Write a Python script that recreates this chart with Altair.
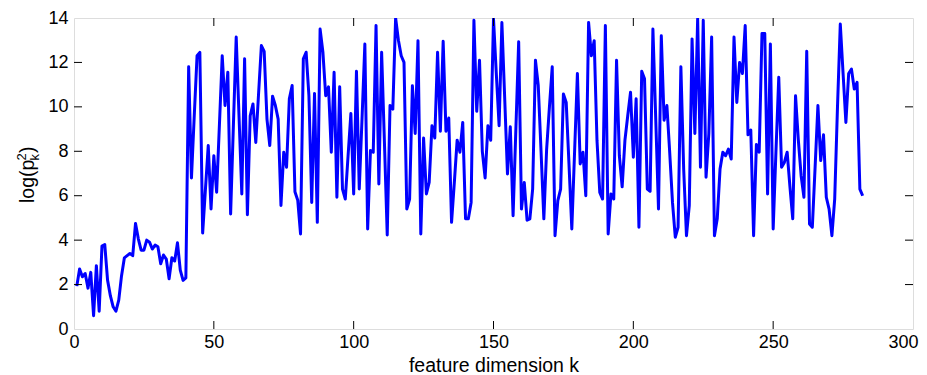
import altair as alt
import pandas as pd

k_vals = list(range(1, 283))
log_p2 = [
    1.93, 2.7, 2.35, 2.5, 1.84, 2.55, 0.6, 2.85, 0.8, 3.73,
    3.8, 2.2, 1.5, 1.0, 0.8, 1.3, 2.4, 3.2, 3.3, 3.4,
    3.3, 4.75, 4.06, 3.55, 3.55, 4.0, 3.91, 3.6, 3.78, 3.7,
    2.94, 3.33, 3.15, 2.26, 3.21, 3.06, 3.88, 2.65, 2.19, 2.3,
    11.8, 6.8, 9.6, 12.3, 12.45, 4.32, 6.3, 8.26, 5.4, 7.8,
    6.16, 9.2, 12.3, 10.06, 11.56, 5.18, 9.2, 13.14, 9.6, 6.08,
    12.16, 5.14, 9.6, 10.13, 8.4, 10.6, 12.76, 12.5, 9.45, 8.26,
    10.48, 10.06, 9.45, 5.56, 7.96, 7.28, 10.36, 10.96, 6.18, 5.8,
    4.28, 12.16, 12.46, 10.5, 5.7, 10.6, 4.8, 13.5, 12.46, 10.5,
    10.9, 7.96, 11.56, 5.93, 10.9, 6.3, 5.85, 7.8, 9.7, 6.08,
    11.6, 6.3, 9.5, 12.83, 4.5, 8.03, 7.96, 13.66, 6.53, 12.46,
    8.4, 4.23, 10.06, 9.9, 14.0, 13.0, 12.3, 12.0, 5.4, 5.85,
    10.95, 8.8, 12.98, 4.28, 8.6, 6.08, 6.6, 9.15, 8.6, 12.46,
    8.9, 12.95, 8.9, 9.5, 4.8, 6.6, 8.5, 7.96, 9.3, 4.96,
    4.96, 5.7, 13.9, 9.8, 12.1, 8.0, 6.8, 9.15, 8.5, 13.96,
    11.5, 9.15, 13.8, 10.4, 6.98, 9.1, 5.1, 9.0, 12.93, 5.4,
    6.6, 4.9, 4.96, 6.3, 12.1, 10.96, 8.0, 4.96, 8.1, 10.0,
    11.8, 4.2, 5.78, 6.3, 10.58, 10.2, 7.4, 4.5, 8.0, 11.5,
    7.43, 7.96, 6.0, 13.8, 12.3, 12.98, 8.5, 6.15, 5.85, 13.66,
    4.28, 6.08, 5.85, 12.1, 7.8, 6.4, 8.5, 9.6, 10.66, 7.73,
    10.36, 4.58, 11.6, 11.26, 6.3, 6.2, 13.5, 9.5, 5.4, 13.2,
    9.4, 10.06, 7.96, 5.7, 4.13, 4.58, 11.8, 7.2, 4.2, 5.55,
    13.06, 8.8, 13.96, 7.28, 13.9, 6.83, 8.8, 13.14, 4.2, 4.96,
    7.2, 7.96, 7.8, 8.1, 7.65, 13.14, 10.2, 12.0, 11.5, 13.66,
    8.74, 8.96, 4.2, 8.3, 7.96, 13.3, 13.3, 6.08, 12.83, 4.5,
    8.0, 11.33, 7.28, 7.5, 7.96, 6.4, 4.96, 10.5, 8.5, 6.9,
    5.93, 12.5, 4.73, 4.58, 7.3, 10.06, 7.58, 8.74, 5.93, 5.4,
    4.2, 5.85, 10.0, 13.73, 11.5, 9.3, 11.5, 11.7, 10.8, 11.1,
    6.3, 6.0,
]
x_ticks = [0, 50, 100, 150, 200, 250, 300]
y_ticks = [0, 2, 4, 6, 8, 10, 12, 14]
x_title = "feature dimension k"
y_title_parts = ["log(p", "2", "k", ")"]

W, H = 839, 311
FONT = "Liberation Sans"
FS = 18
TFS = 19.5
TL = 8

df = pd.DataFrame({"k": k_vals, "v": log_p2})
xt = pd.DataFrame({"t": x_ticks[1:-1]})
yt = pd.DataFrame({"t": y_ticks[1:-1]})

xscale = alt.Scale(domain=[0, 300], nice=False, zero=False)
yscale = alt.Scale(domain=[0, 14], nice=False, zero=False)

line = alt.Chart(df).mark_line(color="#0000ff", strokeWidth=3, clip=True, strokeJoin="round").encode(
    x=alt.X("k:Q", scale=xscale,
            axis=alt.Axis(values=x_ticks, ticks=False, domain=False, grid=False,
                          labelFont=FONT, labelFontSize=FS, labelColor="black",
                          labelFlush=False, labelPadding=4,
                          labelOffset=alt.ExprRef("datum.value == 300 ? -10 : 0"),
                          title=x_title,
                          titleFont=FONT, titleFontSize=TFS, titleFontWeight="normal",
                          titleColor="black", titlePadding=5)),
    y=alt.Y("v:Q", scale=yscale,
            axis=alt.Axis(values=y_ticks, ticks=False, domain=False, grid=False,
                          labelFont=FONT, labelFontSize=FS, labelColor="black",
                          labelFlush=False, labelPadding=6, title=None)),
)

tick_style = dict(color="black", strokeWidth=1)
bottom = alt.Chart(xt).mark_rule(**tick_style).encode(
    x=alt.X("t:Q", scale=xscale), y=alt.value(H), y2=alt.value(H - TL))
top = alt.Chart(xt).mark_rule(**tick_style).encode(
    x=alt.X("t:Q", scale=xscale), y=alt.value(0), y2=alt.value(TL))
left = alt.Chart(yt).mark_rule(**tick_style).encode(
    y=alt.Y("t:Q", scale=yscale), x=alt.value(0), x2=alt.value(TL))
right = alt.Chart(yt).mark_rule(**tick_style).encode(
    y=alt.Y("t:Q", scale=yscale), x=alt.value(W), x2=alt.value(W - TL))


def title_piece(txt, x, y, size):
    return alt.Chart(pd.DataFrame({"s": [txt]})).mark_text(
        angle=270, align="left", baseline="alphabetic", font=FONT,
        fontSize=size, color="black").encode(
        text="s:N", x=alt.value(x), y=alt.value(y))


ytitle = [
    title_piece(y_title_parts[0], -40, 185, TFS),
    title_piece(y_title_parts[1], -48, 142.5, 13),
    title_piece(y_title_parts[2], -35, 142.5, 13),
    title_piece(y_title_parts[3], -40, 135, TFS),
]

chart = alt.layer(line, bottom, top, left, right, *ytitle).properties(
    width=W, height=H,
    autosize=alt.AutoSizeParams(type="none"),
    padding={"left": 66, "top": 10, "right": 6, "bottom": 46},
).configure_view(stroke="black", strokeWidth=1).configure(background="white")

chart.save("out.html", embed_options={"renderer": "svg", "actions": False})
